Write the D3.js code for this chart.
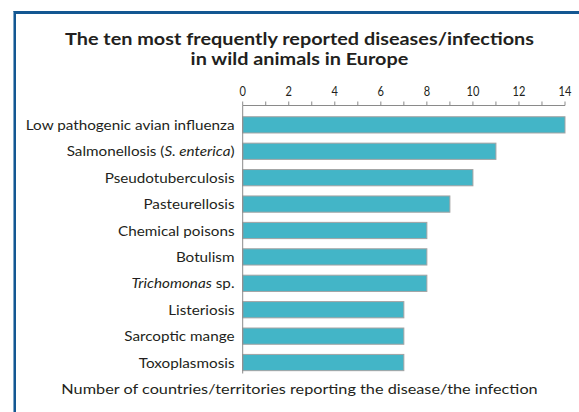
<!DOCTYPE html>
<html>
<head>
<meta charset="utf-8">
<script src="https://cdn.jsdelivr.net/npm/d3@7"></script>
<style>
  html, body { margin: 0; padding: 0; background: #fff; }
  svg { display: block; }
  text { font-family: Lato, "Open Sans", sans-serif; fill: #231f20; }
</style>
</head>
<body>
<svg id="chart" width="579" height="412"></svg>
<script>
// Disease / infection categories, top to bottom
const categories = [
  "Low pathogenic avian influenza",
  "Salmonellosis (S. enterica)",
  "Pseudotuberculosis",
  "Pasteurellosis",
  "Chemical poisons",
  "Botulism",
  "Trichomonas sp.",
  "Listeriosis",
  "Sarcoptic mange",
  "Toxoplasmosis"
];
// Number of countries/territories reporting each one
const reportCounts = [14, 11, 10, 9, 8, 8, 8, 7, 7, 7];
// Labelled ticks on the value axis
const tickLabels = [0, 2, 4, 6, 8, 10, 12, 14];
// Every tick mark on the value axis (labelled and unlabelled)
const tickMarks = d3.range(0, 15, 1);

const titleLines = [
  "The ten most frequently reported diseases/infections",
  "in wild animals in Europe"
];
const axisTitle = "Number of countries/territories reporting the disease/the infection";

// Parts of labels set in italics
const italicParts = {
  "Salmonellosis (S. enterica)": ["Salmonellosis (", "S. enterica", ")"],
  "Trichomonas sp.": ["", "Trichomonas", " sp."]
};

const svg = d3.select("#chart");

// Blue frame running off the right and bottom edges
svg.append("rect")
  .attr("x", 14.5).attr("y", 12.5)
  .attr("width", 620).attr("height", 460)
  .attr("fill", "none")
  .attr("stroke", "#135792")
  .attr("stroke-width", 3);
svg.append("line")
  .attr("x1", 13.5).attr("x2", 13.5).attr("y1", 11.5).attr("y2", 412)
  .attr("stroke", "#7ea6c8").attr("stroke-width", 1);

const x = d3.scaleLinear().domain([0, 14]).range([242.7, 565]);
const y = d3.scaleBand().domain(categories).range([113.7, 373.7]).paddingInner(0.385).paddingOuter(0.115);

// Place a text at (px, py) and squeeze it horizontally by factor k
function place(sel, px, py, k) {
  sel.attr("x", 0).attr("y", 0)
    .attr("transform", `translate(${px},${py}) scale(${k},1)`);
}
// Horizontal squeeze needed for a text to span a given width
function squeezeFor(sel, width) {
  return width / sel.node().getComputedTextLength();
}

const centerX = 299.5;

// Title
const t1 = svg.append("text").attr("text-anchor", "middle")
  .attr("font-weight", "bold").attr("font-size", 17.6)
  .text(titleLines[0]);
const kTitle = squeezeFor(t1, 469);
place(t1, centerX, 44.5, kTitle);
const t2 = svg.append("text").attr("text-anchor", "middle")
  .attr("font-weight", "bold").attr("font-size", 17.6)
  .text(titleLines[1]);
place(t2, centerX, 65, kTitle);

// Value axis at the top
const axisG = svg.append("g").attr("transform", "translate(0,105.5)");
axisG.append("line")
  .attr("x1", x(0)).attr("x2", x(14))
  .attr("stroke", "#8a8a8a").attr("stroke-width", 1);
axisG.selectAll("line.tick").data(tickMarks).join("line")
  .attr("class", "tick")
  .attr("x1", d => x(d)).attr("x2", d => x(d))
  .attr("y1", 0).attr("y2", -4)
  .attr("stroke", "#8a8a8a").attr("stroke-width", 1);
axisG.selectAll("text").data(tickLabels).join("text")
  .attr("text-anchor", "middle").attr("font-size", 13)
  .text(d => d)
  .each(function(d) { place(d3.select(this), x(d), -10, 0.85); });

// Bars
svg.append("g").selectAll("rect").data(categories).join("rect")
  .attr("x", x(0))
  .attr("y", d => y(d))
  .attr("width", (d, i) => x(reportCounts[i]) - x(0))
  .attr("height", y.bandwidth())
  .attr("fill", "#43b5c7")
  .attr("stroke", "#a3a3a3")
  .attr("stroke-width", 1);

// Vertical category axis line
svg.append("line")
  .attr("x1", x(0)).attr("x2", x(0))
  .attr("y1", 105.5).attr("y2", 373.5)
  .attr("stroke", "#8a8a8a").attr("stroke-width", 1);

// Category labels
const labels = svg.append("g").selectAll("text").data(categories).join("text")
  .attr("dy", "0.36em")
  .attr("text-anchor", "end")
  .attr("font-size", 14);
labels.each(function(d) {
  const el = d3.select(this);
  const parts = italicParts[d];
  if (!parts) { el.text(d); return; }
  el.append("tspan").text(parts[0]);
  el.append("tspan").attr("font-style", "italic").text(parts[1]);
  el.append("tspan").text(parts[2]);
});
// Squeeze labels so the longest one fills the label column
const kLabel = squeezeFor(labels.filter((d, i) => i === 0), 209);
labels.each(function(d) {
  place(d3.select(this), 234.5, y(d) + y.bandwidth() / 2, kLabel);
});

// Axis title
const at = svg.append("text").attr("text-anchor", "middle").attr("font-size", 14)
  .text(axisTitle);
place(at, centerX, 393.5, squeezeFor(at, 477));
</script>
</body>
</html>
